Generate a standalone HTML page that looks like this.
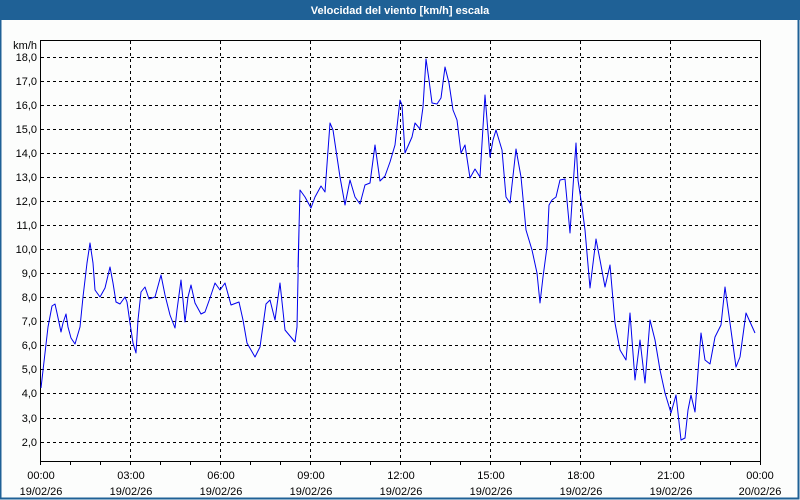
<!DOCTYPE html>
<html><head><meta charset="utf-8"><style>
html,body{margin:0;padding:0;width:800px;height:500px;overflow:hidden;background:#fcfdfc}
svg{display:block}
text{font-family:"Liberation Sans",sans-serif;font-size:11px;fill:#000}
</style></head><body>
<svg width="800" height="500" viewBox="0 0 800 500">
<rect x="0" y="0" width="800" height="500" fill="#fcfdfc"/>
<rect x="0" y="0" width="800" height="20" fill="#1f6196"/>
<rect x="0.5" y="0.5" width="798" height="498" fill="none" stroke="#1f6196" stroke-width="2"/>
<text x="400" y="14" text-anchor="middle" style="fill:#fff;font-weight:bold;font-size:11px">Velocidad del viento [km/h] escala</text>
<g stroke="#000" stroke-width="1" stroke-dasharray="3,3">
<line x1="41" y1="57.5" x2="760" y2="57.5"/><line x1="41" y1="81.5" x2="760" y2="81.5"/>
<line x1="41" y1="105.5" x2="760" y2="105.5"/><line x1="41" y1="129.5" x2="760" y2="129.5"/>
<line x1="41" y1="153.5" x2="760" y2="153.5"/><line x1="41" y1="177.5" x2="760" y2="177.5"/>
<line x1="41" y1="201.5" x2="760" y2="201.5"/><line x1="41" y1="225.5" x2="760" y2="225.5"/>
<line x1="41" y1="249.5" x2="760" y2="249.5"/><line x1="41" y1="273.5" x2="760" y2="273.5"/>
<line x1="41" y1="297.5" x2="760" y2="297.5"/><line x1="41" y1="321.5" x2="760" y2="321.5"/>
<line x1="41" y1="345.5" x2="760" y2="345.5"/><line x1="41" y1="369.5" x2="760" y2="369.5"/>
<line x1="41" y1="393.5" x2="760" y2="393.5"/><line x1="41" y1="418.5" x2="760" y2="418.5"/>
<line x1="41" y1="442.5" x2="760" y2="442.5"/>
<line x1="130.5" y1="41" x2="130.5" y2="461"/><line x1="220.5" y1="41" x2="220.5" y2="461"/>
<line x1="310.5" y1="41" x2="310.5" y2="461"/><line x1="400.5" y1="41" x2="400.5" y2="461"/>
<line x1="490.5" y1="41" x2="490.5" y2="461"/><line x1="580.5" y1="41" x2="580.5" y2="461"/>
<line x1="670.5" y1="41" x2="670.5" y2="461"/>
</g>
<rect x="40.5" y="40.5" width="720" height="421" fill="none" stroke="#000" stroke-width="1"/>
<g stroke="#000" stroke-width="1">
<line x1="40.5" y1="461" x2="40.5" y2="465"/><line x1="70.5" y1="461" x2="70.5" y2="465"/><line x1="100.5" y1="461" x2="100.5" y2="465"/>
<line x1="130.5" y1="461" x2="130.5" y2="465"/><line x1="160.5" y1="461" x2="160.5" y2="465"/><line x1="190.5" y1="461" x2="190.5" y2="465"/>
<line x1="220.5" y1="461" x2="220.5" y2="465"/><line x1="250.5" y1="461" x2="250.5" y2="465"/><line x1="280.5" y1="461" x2="280.5" y2="465"/>
<line x1="310.5" y1="461" x2="310.5" y2="465"/><line x1="340.5" y1="461" x2="340.5" y2="465"/><line x1="370.5" y1="461" x2="370.5" y2="465"/>
<line x1="400.5" y1="461" x2="400.5" y2="465"/><line x1="430.5" y1="461" x2="430.5" y2="465"/><line x1="460.5" y1="461" x2="460.5" y2="465"/>
<line x1="490.5" y1="461" x2="490.5" y2="465"/><line x1="520.5" y1="461" x2="520.5" y2="465"/><line x1="550.5" y1="461" x2="550.5" y2="465"/>
<line x1="580.5" y1="461" x2="580.5" y2="465"/><line x1="610.5" y1="461" x2="610.5" y2="465"/><line x1="640.5" y1="461" x2="640.5" y2="465"/>
<line x1="670.5" y1="461" x2="670.5" y2="465"/><line x1="700.5" y1="461" x2="700.5" y2="465"/><line x1="730.5" y1="461" x2="730.5" y2="465"/>
<line x1="760.5" y1="461" x2="760.5" y2="465"/>
</g>
<g text-anchor="end">
<text x="37" y="49" style="font-size:11px">km/h</text>
<text x="37" y="61">18,0</text><text x="37" y="85">17,0</text><text x="37" y="109">16,0</text>
<text x="37" y="133">15,0</text><text x="37" y="157">14,0</text><text x="37" y="181">13,0</text>
<text x="37" y="205">12,0</text><text x="37" y="229">11,0</text><text x="37" y="253">10,0</text>
<text x="37" y="277">9,0</text><text x="37" y="301">8,0</text><text x="37" y="325">7,0</text>
<text x="37" y="349">6,0</text><text x="37" y="373">5,0</text><text x="37" y="397">4,0</text>
<text x="37" y="422">3,0</text><text x="37" y="446">2,0</text>
</g>
<g text-anchor="middle">
<text x="41" y="479">00:00</text><text x="41" y="495">19/02/26</text>
<text x="131" y="479">03:00</text><text x="131" y="495">19/02/26</text>
<text x="221" y="479">06:00</text><text x="221" y="495">19/02/26</text>
<text x="311" y="479">09:00</text><text x="311" y="495">19/02/26</text>
<text x="401" y="479">12:00</text><text x="401" y="495">19/02/26</text>
<text x="491" y="479">15:00</text><text x="491" y="495">19/02/26</text>
<text x="581" y="479">18:00</text><text x="581" y="495">19/02/26</text>
<text x="671" y="479">21:00</text><text x="671" y="495">19/02/26</text>
<text x="760" y="479">00:00</text><text x="760" y="495">20/02/26</text>
</g>
<polyline fill="none" stroke="#0000ee" stroke-width="1" stroke-linejoin="round" points="
41,388 45,353 48,327 52,306 55,304 57,313 61,332 63,323 66,314 68,327 71,338 75,344 80,327 83,297 87,263 90,243 93,263 95,290 100,297 105,288 110,267 113,283 116,302 120,304 125,297 127,302 130,323 133,343 136,353 138,320 141,292 145,287 149,299 155,297 161,275 165,295 170,315 175,328 177,310 181,280 183,300 185,322 188,297 191,285 195,303 201,314 205,312 210,298 215,283 220,290 225,283 231,305 239,302 243,320 247,343 255,357 260,347 266,304 270,300 275,320 280,283 285,330 295,342 297,327 299,230
298,267 300,190 305,197 311,208 315,197 321,186 325,192 330,123 333,130 340,177 345,205 350,180 355,197 360,204 365,185 370,183 375,145 380,181 385,176 390,162 395,145 400,100 402,105 405,153 412,137 415,123 420,129 423,107 426,59 429,80 432,103 437,104 441,98 445,67 449,83 453,110 457,120 461,153 465,145 470,178 475,169 480,177 483,127 485,95 490,157 493,140 496,130 502,150 506,197 510,203 516,149 521,177 526,230 532,250 537,273 540,303 543,277 547,247 549,205
552,200 556,197 560,180 565,179 570,233 573,187 576,143 578,180 582,207 585,230 590,288 596,239 600,260 605,287 610,265 613,300 615,323 620,350 626,360 630,313 635,380 640,340 645,383 650,320 655,340 660,370 665,393 671,413 676,395 681,440 685,438 688,410 691,395 695,412 698,372 701,333 705,360 710,364 715,337 721,325 725,287 730,323 736,367 740,357 746,313 755,333"/>
</svg>
</body></html>
